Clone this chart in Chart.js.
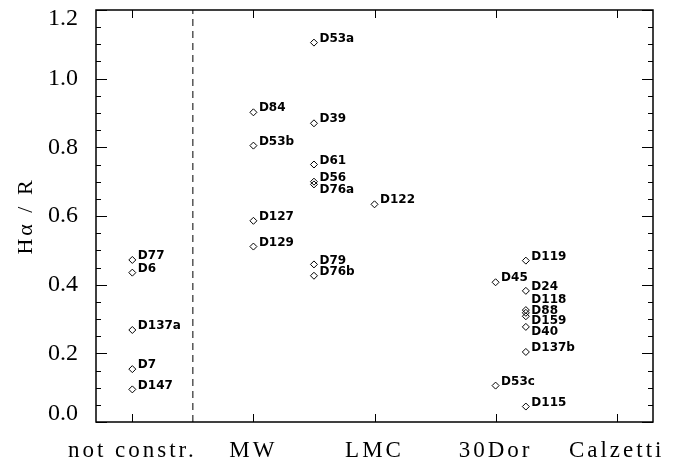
<!DOCTYPE html>
<html>
<head>
<meta charset="utf-8">
<script src="https://cdn.jsdelivr.net/npm/chart.js@4.4.1/dist/chart.umd.min.js"></script>
<style>
  html, body { margin: 0; padding: 0; background: #fff; }
  canvas { display: block; }
</style>
</head>
<body>
<canvas id="haChart" width="688" height="459"></canvas>
<script>
// Категории оси X и деления оси Y
const categories = ['not constr.', 'MW', 'LMC', '30Dor', 'Calzetti'];
const yTickValues = [0, 0.2, 0.4, 0.6, 0.8, 1.0, 1.2];

// Колонки объектов (x в единицах категорий)
const notConstrX = 1;
const notConstrNames = ['D77', 'D6', 'D137a', 'D7', 'D147'];
const notConstrValues = [0.472, 0.435, 0.268, 0.154, 0.095];

const mwX = 2;
const mwNames = ['D84', 'D53b', 'D127', 'D129'];
const mwValues = [0.902, 0.805, 0.586, 0.511];

const mwLmcX = 2.5;
const mwLmcNames = ['D53a', 'D39', 'D61', 'D56', 'D76a', 'D79', 'D76b'];
const mwLmcValues = [1.105, 0.870, 0.750, 0.700, 0.692, 0.459, 0.426];

const lmcX = 3;
const lmcNames = ['D122'];
const lmcValues = [0.634];

const dorX = 4;
const dorNames = ['D45', 'D53c'];
const dorValues = [0.407, 0.106];

const dorRightX = 4.25;
const dorRightNames = ['D119', 'D24', 'D118', 'D88', 'D159', 'D40', 'D137b', 'D115'];
const dorRightValues = [0.470, 0.382, 0.326, 0.318, 0.308, 0.277, 0.204, 0.045];

// граница "not constr."
const dividerX = 1.5;

const toPoints = (x, names, values) => values.map((v, i) => ({ x: x, y: v, name: names[i] }));

const points = [].concat(
  toPoints(notConstrX, notConstrNames, notConstrValues),
  toPoints(mwX, mwNames, mwValues),
  toPoints(mwLmcX, mwLmcNames, mwLmcValues),
  toPoints(lmcX, lmcNames, lmcValues),
  toPoints(dorX, dorNames, dorValues),
  toPoints(dorRightX, dorRightNames, dorRightValues)
);

const serif = '"Liberation Serif", "Times New Roman", serif';

// разреженный шрифт для подписей оси X и заголовка (Hershey-подобный вид)
const spacingPlugin = {
  id: 'spacing',
  beforeDraw(chart) { chart.ctx.letterSpacing = '3px'; },
  beforeDatasetsDraw(chart) { chart.ctx.letterSpacing = '0px'; }
};

// подписи точек, некоторые сдвинуты чтобы не налезали
const labelShift = { D118: -6, D88: 2, D159: 9, D40: 9, D76a: 9 };
const pointLabels = {
  id: 'pointLabels',
  afterDatasetsDraw(chart) {
    const ctx = chart.ctx;
    const meta = chart.getDatasetMeta(0);
    const data = chart.data.datasets[0].data;
    ctx.save();
    ctx.font = 'bold 12px "DejaVu Sans", sans-serif';
    ctx.fillStyle = '#000';
    ctx.textAlign = 'left';
    ctx.textBaseline = 'middle';
    meta.data.forEach((el, i) => {
      const name = data[i].name;
      ctx.fillText(name, el.x + 5.5, el.y - 4 + (labelShift[name] || 0));
    });
    ctx.restore();
  }
};

// рамка с делениями внутрь, как в IDL
const frame = {
  id: 'frame',
  afterDraw(chart) {
    const { ctx, chartArea: a, scales: { x, y } } = chart;
    ctx.save();
    ctx.strokeStyle = '#000';
    ctx.lineWidth = 1;
    ctx.beginPath();
    for (let k = 0; k <= 24; k++) {
      const v = k * 0.05;
      const py = Math.round(y.getPixelForValue(v)) + 0.5;
      const len = k % 4 === 0 ? 11 : 5;
      ctx.moveTo(a.left, py); ctx.lineTo(a.left + len, py);
      ctx.moveTo(a.right, py); ctx.lineTo(a.right - len, py);
    }
    categories.forEach((c, i) => {
      const px = Math.round(x.getPixelForValue(i + 1)) + 0.5;
      ctx.moveTo(px, a.bottom); ctx.lineTo(px, a.bottom - 8);
      ctx.moveTo(px, a.top); ctx.lineTo(px, a.top + 8);
    });
    ctx.stroke();
    ctx.lineWidth = 1.5;
    ctx.strokeRect(a.left, a.top, a.right - a.left, a.bottom - a.top);
    ctx.restore();
  }
};

const noPadding = s => {
  s.paddingTop = 0; s.paddingBottom = 0; s.paddingLeft = 0; s.paddingRight = 0;
};

new Chart(document.getElementById('haChart'), {
  type: 'scatter',
  data: {
    datasets: [
      {
        label: 'sources',
        data: points,
        pointStyle: 'rectRot',
        pointRadius: 3.5,
        pointHoverRadius: 3.5,
        borderColor: '#000',
        backgroundColor: 'rgba(0,0,0,0)',
        borderWidth: 1
      },
      {
        label: 'divider',
        data: [{ x: dividerX, y: yTickValues[0] }, { x: dividerX, y: yTickValues[yTickValues.length - 1] }],
        showLine: true,
        pointRadius: 0,
        borderColor: '#000',
        borderWidth: 1,
        borderDash: [7, 5]
      }
    ]
  },
  options: {
    responsive: false,
    animation: false,
    events: [],
    layout: { padding: { left: 0, right: 35, top: 10, bottom: 0 } },
    plugins: { legend: { display: false }, tooltip: { enabled: false } },
    scales: {
      x: {
        type: 'linear',
        min: 0.7,
        max: 5.3,
        afterBuildTicks: s => { s.ticks = categories.map((c, i) => ({ value: i + 1 })); },
        afterFit: s => { s.height = 37; noPadding(s); },
        grid: { display: false },
        border: { display: false },
        ticks: {
          autoSkip: false,
          maxRotation: 0,
          padding: 7,
          color: '#000',
          font: { family: serif, size: 23 },
          callback: (v, i) => categories[i]
        }
      },
      y: {
        type: 'linear',
        min: 0,
        max: 1.2,
        afterBuildTicks: s => { s.ticks = yTickValues.map(v => ({ value: v })); },
        afterFit: s => { s.width = 96; noPadding(s); },
        grid: { display: false },
        border: { display: false },
        title: {
          display: true,
          text: 'Hα / R',
          color: '#000',
          font: { family: serif, size: 22 },
          padding: { top: 13, bottom: 0 }
        },
        ticks: {
          z: 1,
          padding: 10,
          color: '#000',
          font: { family: serif, size: 24, lineHeight: 0.7 },
          // крайние подписи отодвинуты от углов рамки
          callback: (v, i, ticks) => {
            const t = Number(v).toFixed(1);
            if (i === 0) return [t, ''];
            if (i === ticks.length - 1) return ['', t];
            return t;
          }
        }
      }
    }
  },
  plugins: [spacingPlugin, pointLabels, frame]
});
</script>
</body>
</html>
